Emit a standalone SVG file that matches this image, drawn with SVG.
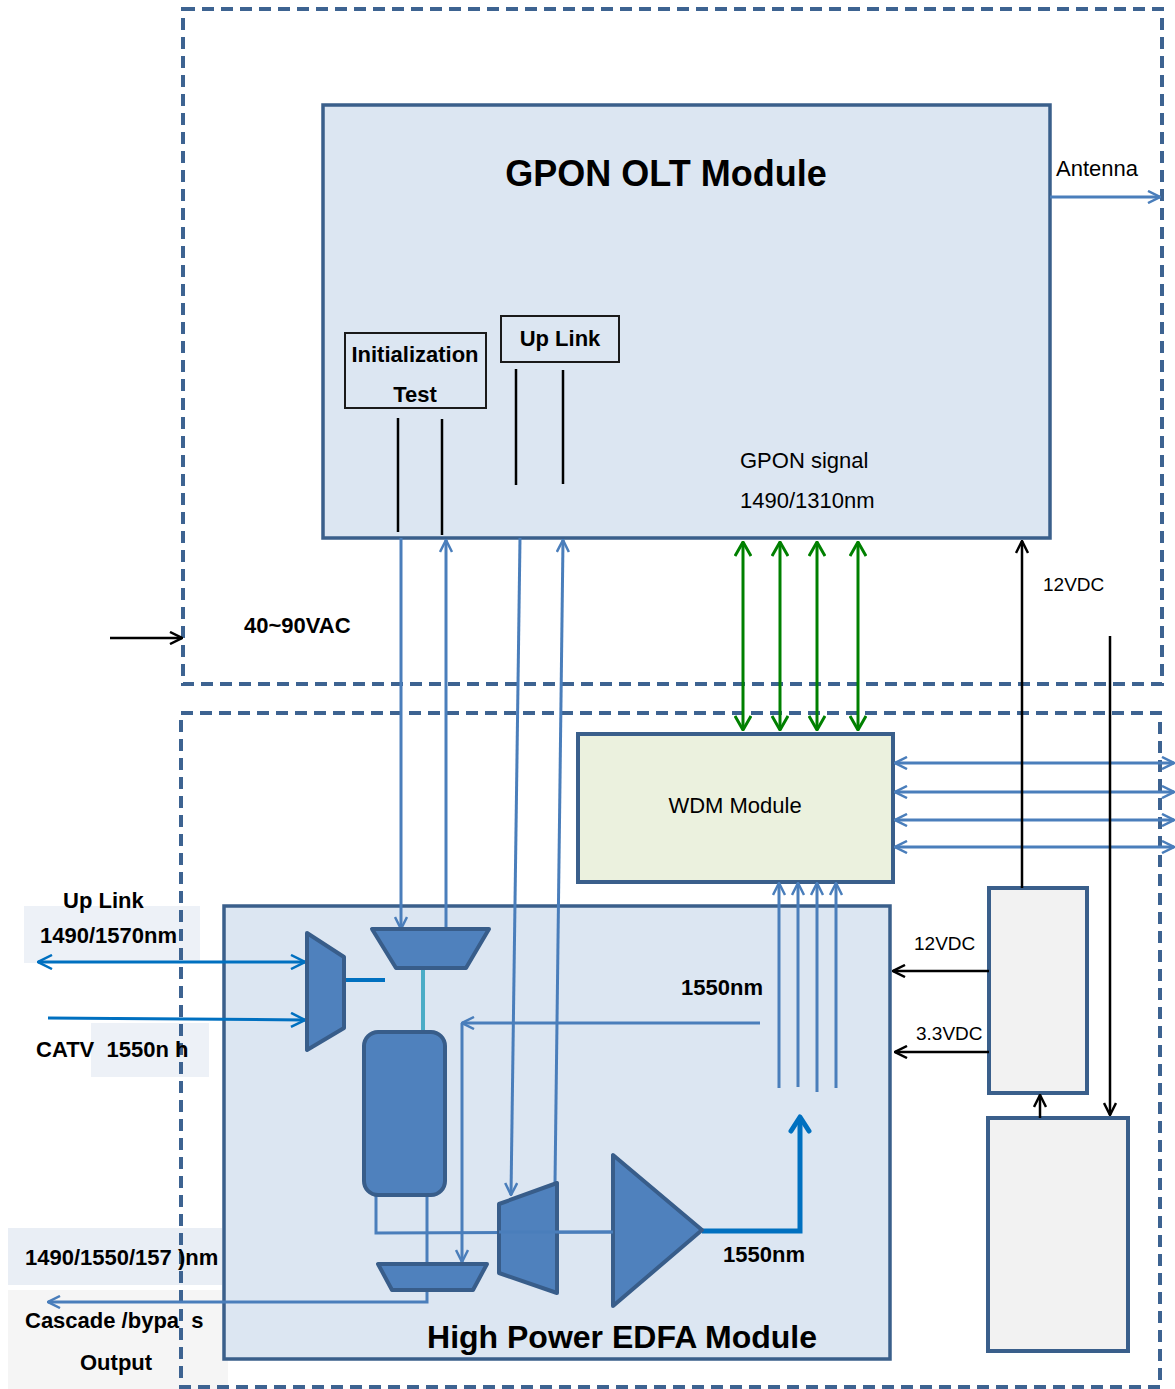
<svg xmlns="http://www.w3.org/2000/svg" width="1175" height="1389" viewBox="0 0 1175 1389">
<style>
.dash{fill:none;stroke:#3d6391;stroke-width:4;stroke-dasharray:12 7}
.mod{fill:#dce6f2;stroke:#3a5f8b;stroke-width:3.5}
.lbl{fill:none;stroke:#1a1a1a;stroke-width:2}
.psu{fill:#f2f2f2;stroke:#3a5f8b;stroke-width:4}
.comp{fill:#4f81bd;stroke:#385d8a;stroke-width:4;stroke-linejoin:round}
.t{font-family:"Liberation Sans",Arial,sans-serif;fill:#000;white-space:pre}
.b{font-weight:bold}
.bl{stroke:#4a7ebb;stroke-width:3;fill:none}
.db{stroke:#0070c0;stroke-width:3;fill:none}
.gr{stroke:#008000;stroke-width:3;fill:none}
.bk{stroke:#000;stroke-width:2.5;fill:none}
</style>
<defs>
<marker id="mb" viewBox="0 0 14 14" refX="13" refY="7" markerWidth="14" markerHeight="14" markerUnits="userSpaceOnUse" orient="auto-start-reverse"><path d="M1,1 L13,7 L1,13" fill="none" stroke="#4a7ebb" stroke-width="2.5"/></marker>
<marker id="md" viewBox="0 0 16 16" refX="15" refY="8" markerWidth="16" markerHeight="16" markerUnits="userSpaceOnUse" orient="auto-start-reverse"><path d="M1,1 L15,8 L1,15" fill="none" stroke="#0070c0" stroke-width="2.5"/></marker>
<marker id="mg" viewBox="0 0 16 18" refX="15" refY="9" markerWidth="16" markerHeight="18" markerUnits="userSpaceOnUse" orient="auto-start-reverse"><path d="M1,1 L15,9 L1,17" fill="none" stroke="#008000" stroke-width="3"/></marker>
<marker id="mk" viewBox="0 0 14 14" refX="13" refY="7" markerWidth="14" markerHeight="14" markerUnits="userSpaceOnUse" orient="auto-start-reverse"><path d="M1,1 L13,7 L1,13" fill="none" stroke="#000" stroke-width="2.5"/></marker>
<marker id="mt" viewBox="0 0 20 24" refX="17" refY="12" markerWidth="20" markerHeight="24" markerUnits="userSpaceOnUse" orient="auto"><path d="M3,3 L17,12 L3,21" fill="none" stroke="#0070c0" stroke-width="5" stroke-linecap="round" stroke-linejoin="round"/></marker>
</defs>

<g id="label-backgrounds">
<rect x="24" y="906" width="176" height="57" fill="#edf1f7"/>
<rect x="91" y="1023" width="118" height="54" fill="#edf1f7"/>
<rect x="8" y="1228" width="214" height="57" fill="#e9eef5"/>
<rect x="8" y="1290" width="220" height="99" fill="#f5f5f5"/>
</g>

<g id="enclosure-top"><rect class="dash" x="183" y="9" width="979" height="675"/></g>
<g id="enclosure-bottom"><rect class="dash" x="181" y="713" width="979" height="674"/></g>

<g id="gpon-olt">
<rect class="mod" x="323" y="105" width="727" height="433"/>
<text class="t b" x="666" y="186" font-size="36" text-anchor="middle">GPON OLT Module</text>
<text class="t" x="740" y="468" font-size="22">GPON signal</text>
<text class="t" x="740" y="508" font-size="22">1490/1310nm</text>
</g>
<g id="init-test">
<rect class="lbl" x="345" y="333" width="141" height="75"/>
<text class="t b" x="415" y="362" font-size="22" text-anchor="middle">Initialization</text>
<text class="t b" x="415" y="402" font-size="22" text-anchor="middle">Test</text>
</g>
<g id="up-link">
<rect class="lbl" x="501" y="316" width="118" height="46"/>
<text class="t b" x="560" y="346" font-size="22" text-anchor="middle">Up Link</text>
</g>

<g id="wdm">
<rect x="578" y="734" width="315" height="148" fill="#ebf1de" stroke="#3a5f8b" stroke-width="4"/>
<text class="t" x="735" y="813" font-size="22" text-anchor="middle">WDM Module</text>
</g>

<g id="edfa">
<rect class="mod" x="224" y="906" width="666" height="453"/>
<text class="t b" x="622" y="1348" font-size="32" text-anchor="middle">High Power EDFA Module</text>
<text class="t b" x="681" y="995" font-size="22">1550nm</text>
<text class="t b" x="723" y="1262" font-size="22">1550nm</text>
</g>

<g id="psu-1"><rect class="psu" x="989" y="888" width="98" height="205"/></g>
<g id="psu-2"><rect class="psu" x="988" y="1118" width="140" height="233"/></g>

<g id="connectors">
<line class="bk" x1="398" y1="418" x2="398" y2="532" stroke-width="2"/>
<line class="bk" x1="442" y1="419" x2="442" y2="535" stroke-width="2"/>
<line class="bk" x1="516" y1="369" x2="516" y2="485" stroke-width="2"/>
<line class="bk" x1="563" y1="370" x2="563" y2="484" stroke-width="2"/>
<line class="bl" x1="1050" y1="197" x2="1160" y2="197" marker-end="url(#mb)"/>
<text class="t" x="1056" y="176" font-size="22">Antenna</text>
<line class="bl" x1="401" y1="538" x2="401" y2="929" marker-end="url(#mb)"/>
<line class="bl" x1="446" y1="929" x2="446" y2="540" marker-end="url(#mb)"/>
<line class="bl" x1="520" y1="538" x2="511" y2="1195" marker-end="url(#mb)"/>
<line class="bl" x1="555" y1="1183" x2="563" y2="540" marker-end="url(#mb)" stroke="#79a0d3"/>
<line class="gr" x1="743" y1="542" x2="743" y2="730" marker-start="url(#mg)" marker-end="url(#mg)"/>
<line class="gr" x1="780" y1="542" x2="780" y2="730" marker-start="url(#mg)" marker-end="url(#mg)"/>
<line class="gr" x1="817" y1="542" x2="817" y2="730" marker-start="url(#mg)" marker-end="url(#mg)"/>
<line class="gr" x1="858" y1="542" x2="858" y2="730" marker-start="url(#mg)" marker-end="url(#mg)"/>
<line class="bl" x1="895" y1="763" x2="1174" y2="763" marker-start="url(#mb)" marker-end="url(#mb)"/>
<line class="bl" x1="895" y1="792" x2="1174" y2="792" marker-start="url(#mb)" marker-end="url(#mb)"/>
<line class="bl" x1="895" y1="820" x2="1174" y2="820" marker-start="url(#mb)" marker-end="url(#mb)"/>
<line class="bl" x1="895" y1="847" x2="1174" y2="847" marker-start="url(#mb)" marker-end="url(#mb)"/>
<line class="bk" x1="1022" y1="888" x2="1022" y2="541" marker-end="url(#mk)"/>
<text class="t" x="1043" y="591" font-size="19">12VDC</text>
<line class="bk" x1="1110" y1="636" x2="1110" y2="1115" marker-end="url(#mk)"/>
<line class="bk" x1="1040" y1="1118" x2="1040" y2="1095" marker-end="url(#mk)"/>
<line class="bk" x1="989" y1="971" x2="893" y2="971" marker-end="url(#mk)"/>
<text class="t" x="914" y="950" font-size="19">12VDC</text>
<line class="bk" x1="989" y1="1052" x2="895" y2="1052" marker-end="url(#mk)"/>
<text class="t" x="916" y="1040" font-size="19">3.3VDC</text>
<line class="bk" x1="110" y1="638" x2="182" y2="638" marker-end="url(#mk)"/>
<text class="t b" x="244" y="633" font-size="22">40~90VAC</text>
<line class="bl" x1="779" y1="1088" x2="779" y2="883" marker-end="url(#mb)"/>
<line class="bl" x1="798" y1="1087" x2="798" y2="883" marker-end="url(#mb)"/>
<line class="bl" x1="817" y1="1092" x2="817" y2="883" marker-end="url(#mb)"/>
<line class="bl" x1="836" y1="1088" x2="836" y2="883" marker-end="url(#mb)"/>
<line class="bl" x1="760" y1="1023" x2="462" y2="1023" marker-end="url(#mb)"/>
<line class="bl" x1="462" y1="1023" x2="462" y2="1262" marker-end="url(#mb)"/>
<line x1="345" y1="980" x2="385" y2="980" stroke="#0070c0" stroke-width="4"/>
<line x1="423" y1="968" x2="423" y2="1032" stroke="#4bacc6" stroke-width="4"/>
<polyline class="bl" points="376,1195 376,1233 613,1232"/>
<polyline class="bl" points="427,1195 427,1302 48,1302" marker-end="url(#mb)"/>
<polyline points="702,1231 800,1231 800,1117" fill="none" stroke="#0070c0" stroke-width="5" marker-end="url(#mt)"/>
<line class="db" x1="38" y1="962" x2="305" y2="962" marker-start="url(#md)" marker-end="url(#md)"/>
<line class="db" x1="48" y1="1018" x2="305" y2="1020" marker-end="url(#md)"/>
</g>

<g id="components">
<polygon id="demux-left" class="comp" points="307,933 344,957 344,1028 307,1050"/>
<polygon id="mux-top" class="comp" points="372,929 489,929 466,968 396,968"/>
<rect id="edf-coil" class="comp" x="364" y="1032" width="81" height="163" rx="14"/>
<polygon id="mux-bottom" class="comp" points="378,1264 487,1264 473,1290 392,1290"/>
<polygon id="isolator" class="comp" points="499,1204 557,1183 557,1293 499,1273"/>
<polygon id="amplifier" class="comp" points="613,1155 613,1306 702,1230"/>
<line x1="499" y1="1232" x2="613" y2="1232" class="bl"/>
</g>

<g id="side-labels">
<text class="t b" x="63" y="908" font-size="22">Up Link</text>
<text class="t b" x="40" y="943" font-size="22">1490/1570nm</text>
<text class="t b" x="36" y="1057" font-size="22" xml:space="preserve">CATV  1550n h</text>
<text class="t b" x="25" y="1265" font-size="22" xml:space="preserve">1490/1550/157 )nm</text>
<text class="t b" x="25" y="1328" font-size="22" xml:space="preserve">Cascade /bypa  s</text>
<text class="t b" x="80" y="1370" font-size="22">Output</text>
</g>
</svg>
